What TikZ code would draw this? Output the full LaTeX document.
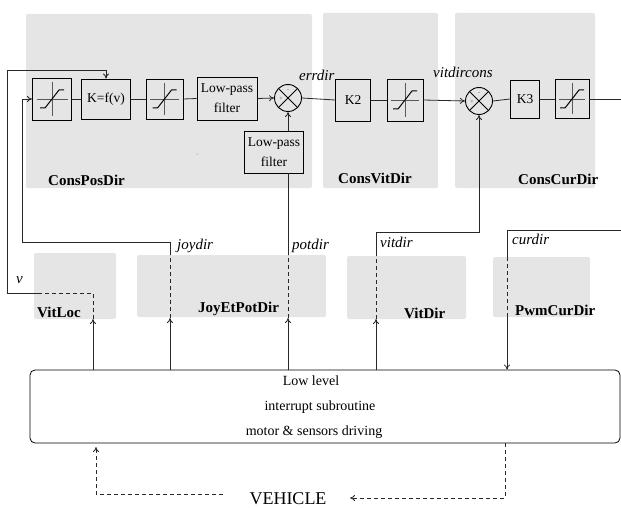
\documentclass[tikz,border=0pt]{standalone}
\usepackage{fontspec}
\setmainfont{Liberation Serif}
\usetikzlibrary{arrows.meta,calc}
\definecolor{panel}{RGB}{229,229,229}
\definecolor{lin}{RGB}{40,40,40}
\begin{document}
\begin{tikzpicture}[x=1pt,y=-1pt,
  plab/.style={font=\fontsize{15}{17}\selectfont\bfseries, inner sep=0, anchor=base west},
  sig/.style={font=\fontsize{15}{17}\selectfont\itshape, inner sep=0, anchor=base west},
  blk/.style={draw, line width=0.9pt, inner sep=0, font=\fontsize{13.5}{20}\selectfont, align=center},
  sat/.style={blk, path picture={
    \draw[black!65, line width=0.7pt] ($(path picture bounding box.west)+(4pt,0)$) -- ($(path picture bounding box.east)+(-4pt,0)$);
    \draw[black!65, line width=0.7pt] ($(path picture bounding box.north)+(0,-4pt)$) -- ($(path picture bounding box.south)+(0,4pt)$);
    \draw[line width=1pt] ($(path picture bounding box.center)+(-12pt,-9pt)$) -- ++(5pt,0) -- ++(14pt,18pt) -- ++(5pt,0);
  }},
  summer/.style={draw, circle, minimum size=27pt, inner sep=0, line width=0.9pt, path picture={
    \draw[line width=0.8pt] (path picture bounding box.north west) -- (path picture bounding box.south east);
    \draw[line width=0.8pt] (path picture bounding box.north east) -- (path picture bounding box.south west);
  }},
  pm/.style={font=\fontsize{6}{6}\selectfont, inner sep=0, text=black!70},
  conn/.style={line width=0.8pt, draw=lin},
  arr/.style={conn, -{To[length=5pt,width=6pt]}},
  dsh/.style={conn, dash pattern=on 4pt off 3pt},
  txt/.style={font=\fontsize{14}{16}\selectfont, inner sep=0}
]
\useasboundingbox (0,0) rectangle (621,508);

% panels
\fill[panel, rounded corners=2pt] (26,14) rectangle (312,188);
\fill[panel, rounded corners=2pt] (323,13) rectangle (438,188);
\fill[panel, rounded corners=2pt] (455,13) rectangle (595,188);
\fill[panel, rounded corners=2pt] (34,253) rectangle (116,319);
\fill[panel, rounded corners=2pt] (137,255) rectangle (326,317);
\fill[panel, rounded corners=2pt] (347,256) rectangle (466,319);
\fill[panel, rounded corners=2pt] (493,257) rectangle (590,317);
\fill[black!60] (197,154) circle (0.5pt);

\node[plab] (lcpd) at (48,185) {ConsPosDir};
\node[plab] (lcvd) at (338,183) {ConsVitDir};
\node[plab] (lccd) at (518,184) {ConsCurDir};
\node[plab] (lvl) at (37,317) {VitLoc};
\node[plab] (ljp) at (198,312) {JoyEtPotDir};
\node[plab] (lvd) at (404,318) {VitDir};
\node[plab] (lpw) at (515,315) {PwmCurDir};

% blocks
\node[sat, minimum width=39pt, minimum height=42pt] (sat1) at (52,99) {};
\node[blk, minimum width=49pt, minimum height=40pt] (kf) at (106,99) {K=f(v)};
\node[sat, minimum width=37pt, minimum height=40pt] (sat2) at (164.5,99) {};
\node[blk, minimum width=60pt, minimum height=43pt] (lpf1) at (227,98.5) {Low-pass\\filter};
\node[summer] (sum1) at (288,98) {};
\node[pm] (s1p) at ($(sum1.center)+(-7pt,-1pt)$) {+};
\node[pm] (s1m) at ($(sum1.center)+(0pt,7pt)$) {-};
\node[blk, minimum width=59pt, minimum height=42pt] (lpf2) at (274,152) {Low-pass\\filter};
\node[blk, minimum width=35pt, minimum height=42pt] (k2) at (353,100) {K2};
\node[sat, minimum width=36pt, minimum height=42pt] (sat3) at (405,100) {};
\node[summer] (sum2) at (479,101) {};
\node[pm] (s2p) at ($(sum2.center)+(-7pt,-1pt)$) {+};
\node[pm] (s2m) at ($(sum2.center)+(0pt,7pt)$) {-};
\node[blk, minimum width=29pt, minimum height=38pt] (k3) at (525,99) {K3};
\node[sat, minimum width=34pt, minimum height=39pt] (sat4) at (572,99) {};

% main chain
\coordinate (outR) at (621,99);
\draw[conn] (sat1.east) -- (kf.west);
\draw[conn] (kf.east) -- (sat2.west);
\draw[conn] (sat2.east) -- (lpf1.west);
\draw[arr] (lpf1.east) -- (sum1.west);
\draw[conn] (sum1.east) -- (k2.west);
\draw[conn] (k2.east) -- (sat3.west);
\draw[arr] (sat3.east) -- (sum2.west);
\draw[conn] (sum2.east) -- (k3.west);
\draw[conn] (k3.east) -- (sat4.west);
\draw[conn] (sat4.east) -- (outR);

\node[sig] (lerr) at (299,81) {errdir};
\node[sig] (lvc) at (433,78) {vitdircons};

% lower box
\node[draw, rounded corners=5pt, minimum width=590pt, minimum height=73pt, line width=0.8pt] (low) at (325,406.5) {};
\node[txt] (t1) at (311,381) {Low level};
\node[txt] (t2) at (320,407) {interrupt subroutine};
\node[txt] (t3) at (314,432) {motor \& sensors driving};

% v feedback
\coordinate (va) at (93,319); \coordinate (vb) at (93,293); \coordinate (vc) at (40,293);
\coordinate (vd) at (7,293); \coordinate (ve) at (7,70);
\draw[arr] (low.north -| va) -- (va);
\draw[dsh] (va) -- (vb) -- (vc);
\draw[arr] (vc) -- (vd) -- (ve) -| (kf.north);
\node[sig] (lv) at (16,283) {v};

% joydir
\coordinate (ja) at (170,318); \coordinate (jb) at (170,255); \coordinate (jc) at (170,242); \coordinate (jd) at (22,242);
\draw[arr] (low.north -| ja) -- (ja);
\draw[dsh] (ja) -- (jb);
\draw[arr] (jb) -- (jc) -- (jd) |- (sat1.west);
\node[sig] (ljoy) at (177,249) {joydir};

% potdir
\coordinate (pa) at (288,318); \coordinate (pb) at (288,255);
\draw[arr] (low.north -| pa) -- (pa);
\draw[dsh] (pa) -- (pb);
\draw[conn] (pb) -- (lpf2.south -| pb);
\draw[arr] (lpf2.north -| sum1) -- (sum1.south);
\node[sig] (lpot) at (292,249) {potdir};

% vitdir
\coordinate (ta) at (376,319); \coordinate (tb) at (376,256); \coordinate (tc) at (376,232);
\draw[arr] (low.north -| ta) -- (ta);
\draw[dsh] (ta) -- (tb);
\draw[arr] (tb) -- (tc) -| (sum2.south);
\node[sig] (lvit) at (380,247) {vitdir};

% curdir
\coordinate (ca) at (621,230); \coordinate (cb) at (507,257); \coordinate (cc) at (507,317);
\draw[conn] (ca) -| (cb);
\draw[dsh] (cb) -- (cc);
\draw[arr] (cc) -- (low.north -| cc);
\node[sig] (lcur) at (512,244) {curdir};

% vehicle
\node[font=\fontsize{18}{20}\selectfont, inner sep=0, anchor=base] (veh) at (288,504) {VEHICLE};
\coordinate (bl) at (223,494); \coordinate (blt) at (96,447);
\coordinate (rb) at (505,498); \coordinate (br) at (350,498);
\draw[dsh, -{To[length=5pt,width=6pt]}] (bl) -| (blt);
\draw[dsh, -{To[length=5pt,width=6pt]}] (low.south -| rb) -- (rb) -- (br);
\end{tikzpicture}
\end{document}
